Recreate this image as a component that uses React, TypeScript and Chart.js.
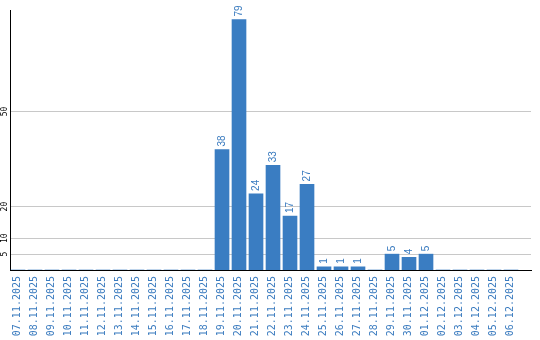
import React, { useEffect, useRef } from "react";
import { Chart, registerables } from "chart.js";

Chart.register(...registerables);

const dates = [
  "07.11.2025", "08.11.2025", "09.11.2025", "10.11.2025", "11.11.2025",
  "12.11.2025", "13.11.2025", "14.11.2025", "15.11.2025", "16.11.2025",
  "17.11.2025", "18.11.2025", "19.11.2025", "20.11.2025", "21.11.2025",
  "22.11.2025", "23.11.2025", "24.11.2025", "25.11.2025", "26.11.2025",
  "27.11.2025", "28.11.2025", "29.11.2025", "30.11.2025", "01.12.2025",
  "02.12.2025", "03.12.2025", "04.12.2025", "05.12.2025", "06.12.2025",
];

const counts = [
  0, 0, 0, 0, 0, 0, 0, 0, 0, 0, 0, 0,
  38, 79, 24, 33, 17, 27, 1, 1, 1, 0, 5, 4, 5,
  0, 0, 0, 0, 0,
];

const yTicks = [5, 10, 20, 50];

const BAR = "#3a7dc2";
const TEXT_BLUE = "#3a7bbf";

const barLabels = {
  id: "barLabels",
  afterDatasetsDraw(chart: any) {
    const ctx = chart.ctx;
    const meta = chart.getDatasetMeta(0);
    ctx.save();
    ctx.fillStyle = TEXT_BLUE;
    ctx.font = "10px 'Liberation Sans', Arial, sans-serif";
    ctx.textAlign = "left";
    ctx.textBaseline = "middle";
    meta.data.forEach((el: any, i: number) => {
      const v = counts[i];
      if (!v) return;
      ctx.save();
      ctx.translate(el.x, el.y - 3);
      ctx.rotate(-Math.PI / 2);
      ctx.fillText(String(v), 0, 0);
      ctx.restore();
    });
    ctx.restore();
  },
};

const axisLabels = {
  id: "axisLabels",
  afterDraw(chart: any) {
    const ctx = chart.ctx;
    const y = chart.scales.y;
    const x = chart.scales.x;
    ctx.save();
    ctx.fillStyle = "#000";
    ctx.font = "8px 'DejaVu Sans Mono', monospace";
    ctx.textAlign = "center";
    ctx.textBaseline = "middle";
    yTicks.forEach((t) => {
      ctx.save();
      ctx.translate(4.5, y.getPixelForValue(t));
      ctx.rotate(-Math.PI / 2);
      ctx.fillText(String(t), 0, 0);
      ctx.restore();
    });
    ctx.fillStyle = TEXT_BLUE;
    ctx.font = "10px 'DejaVu Sans Mono', monospace";
    ctx.textAlign = "right";
    ctx.textBaseline = "middle";
    dates.forEach((d, i) => {
      ctx.save();
      ctx.translate(x.getPixelForValue(i) - 0.5, y.bottom + 6);
      ctx.rotate(-Math.PI / 2);
      ctx.fillText(d, 0, 0);
      ctx.restore();
    });
    ctx.restore();
  },
};

export default function App() {
  const ref = useRef<HTMLCanvasElement | null>(null);

  useEffect(() => {
    document.body.style.margin = "0";
    if (!ref.current) return;
    const chart = new Chart(ref.current, {
      type: "bar",
      data: {
        datasets: [
          {
            data: counts.map((v, i) => ({ x: i, y: v })),
            backgroundColor: BAR,
            borderWidth: 0,
            barThickness: 14,
          },
        ],
      },
      options: {
        animation: false,
        responsive: false,
        devicePixelRatio: 1,
        layout: { padding: { top: 10, right: 9, left: 0, bottom: 0 } },
        plugins: { legend: { display: false }, tooltip: { enabled: false } },
        scales: {
          x: {
            type: "linear",
            offset: false,
            min: -0.4706,
            max: 30.176,
            afterBuildTicks: (a: any) => {
              a.ticks = dates.map((_, i) => ({ value: i }));
            },
            afterFit: (s: any) => {
              s.height = 70;
            },
            ticks: { display: false },
            grid: { display: false, drawTicks: false, offset: false },
            border: { display: true, color: "#000", width: 1 },
          },
          y: {
            min: 0,
            max: 82,
            afterBuildTicks: (a: any) => {
              a.ticks = yTicks.map((v) => ({ value: v }));
            },
            afterFit: (s: any) => {
              s.width = 10;
            },
            ticks: { display: false },
            grid: { color: "#c8c8c8", drawTicks: false },
            border: { display: true, color: "#000", width: 1 },
          },
        },
      } as any,
      plugins: [barLabels, axisLabels],
    });
    return () => chart.destroy();
  }, []);

  return <canvas ref={ref} width={540} height={340} style={{ display: "block" }} />;
}
